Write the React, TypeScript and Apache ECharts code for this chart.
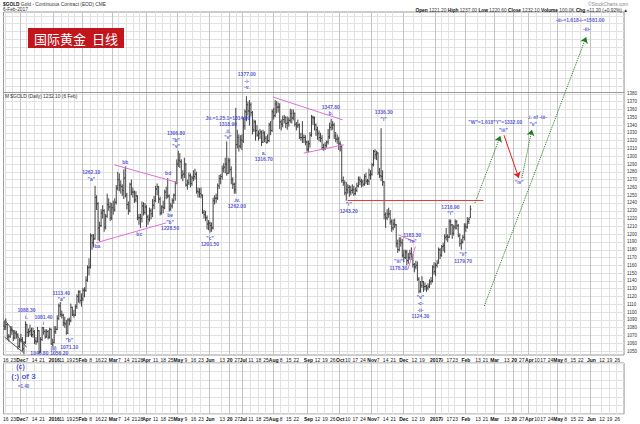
import React, { useEffect, useRef } from 'react';
import * as echarts from 'echarts';

const HOLIDAYS = ['2015-11-26','2015-12-25','2016-01-01','2016-01-18','2016-02-15','2016-03-25','2016-05-30','2016-07-04','2016-09-05','2016-11-24','2016-12-26','2017-01-02','2017-01-16','2017-02-20','2017-04-14','2017-05-29'];

const TICK_LABELS: [string, string][] = [
  ['2015-11-16','16'],['2015-11-23','23'],['2015-12-01','Dec'],['2015-12-07','7'],['2015-12-14','14'],['2015-12-21','21'],
  ['2016-01-04','2016'],['2016-01-11','11'],['2016-01-19','19'],['2016-01-25','25'],
  ['2016-02-01','Feb'],['2016-02-08','8'],['2016-02-16','16'],['2016-02-22','22'],
  ['2016-03-01','Mar'],['2016-03-07','7'],['2016-03-14','14'],['2016-03-21','21'],['2016-03-28','28'],
  ['2016-04-01','Apr'],['2016-04-11','11'],['2016-04-18','18'],['2016-04-25','25'],
  ['2016-05-02','May'],['2016-05-09','9'],['2016-05-16','16'],['2016-05-23','23'],
  ['2016-06-01','Jun'],['2016-06-13','13'],['2016-06-20','20'],['2016-06-27','27'],
  ['2016-07-01','Jul'],['2016-07-11','11'],['2016-07-18','18'],['2016-07-25','25'],
  ['2016-08-01','Aug'],['2016-08-08','8'],['2016-08-15','15'],['2016-08-22','22'],
  ['2016-09-01','Sep'],['2016-09-12','12'],['2016-09-19','19'],['2016-09-26','26'],
  ['2016-10-03','Oct'],['2016-10-10','10'],['2016-10-17','17'],['2016-10-24','24'],
  ['2016-11-01','Nov'],['2016-11-07','7'],['2016-11-14','14'],['2016-11-21','21'],
  ['2016-12-01','Dec'],['2016-12-12','12'],['2016-12-19','19'],
  ['2017-01-03','2017'],['2017-01-09','9'],['2017-01-17','17'],['2017-01-23','23'],
  ['2017-02-01','Feb'],['2017-02-13','13'],['2017-02-21','21'],
  ['2017-03-01','Mar'],['2017-03-13','13'],['2017-03-20','20'],['2017-03-27','27'],
  ['2017-04-03','Apr'],['2017-04-10','10'],['2017-04-17','17'],['2017-04-24','24'],
  ['2017-05-01','May'],['2017-05-08','8'],['2017-05-15','15'],['2017-05-22','22'],
  ['2017-06-01','Jun'],['2017-06-12','12'],['2017-06-19','19'],['2017-06-26','26'],
];

const PRICE_TICKS = [1050,1060,1070,1080,1090,1100,1110,1120,1130,1140,1150,1160,1170,1180,1190,1200,1210,1220,1230,1240,1250,1260,1270,1280,1290,1300,1310,1320,1330,1340,1350,1360,1370,1380];

// [date, open, high, low, close]
const BARS: [string, number, number, number, number][] = [
  ['2015-11-13',1082,1089,1077,1081],['2015-11-16',1081,1092,1077,1084],['2015-11-17',1084,1086,1064,1068],['2015-11-18',1068,1072,1062,1069],
  ['2015-11-19',1069,1082,1067,1077],['2015-11-20',1077,1082,1071,1076],['2015-11-23',1076,1077,1063,1067],['2015-11-24',1067,1077,1065,1073],
  ['2015-11-25',1073,1076,1066,1071],['2015-11-27',1071,1073,1052,1056],['2015-11-30',1056,1066,1054,1064],
  ['2015-12-01',1064,1072,1061,1065],['2015-12-02',1065,1068,1050,1053],['2015-12-03',1053,1063,1046,1061],['2015-12-04',1061,1088,1059,1084],
  ['2015-12-07',1084,1085,1068,1074],['2015-12-08',1074,1079,1068,1075],['2015-12-09',1075,1084,1070,1076],['2015-12-10',1076,1080,1068,1071],
  ['2015-12-11',1071,1080,1067,1075],['2015-12-14',1075,1077,1059,1063],['2015-12-15',1063,1068,1058,1062],['2015-12-16',1062,1081,1061,1076],
  ['2015-12-17',1076,1077,1047,1049],['2015-12-18',1049,1068,1048,1065],['2015-12-21',1065,1081,1063,1080],['2015-12-22',1080,1081,1071,1075],
  ['2015-12-23',1075,1078,1066,1068],['2015-12-24',1068,1078,1067,1075],['2015-12-28',1075,1077,1065,1068],['2015-12-29',1068,1080,1066,1078],
  ['2015-12-30',1078,1079,1058,1059],['2015-12-31',1059,1066,1056,1061],
  ['2016-01-04',1061,1082,1060,1075],['2016-01-05',1075,1082,1072,1078],['2016-01-06',1078,1096,1077,1092],['2016-01-07',1092,1111,1090,1108],
  ['2016-01-08',1108,1113,1094,1097],['2016-01-11',1097,1102,1092,1096],['2016-01-12',1096,1098,1082,1086],['2016-01-13',1086,1094,1080,1085],
  ['2016-01-14',1085,1090,1071,1073],['2016-01-15',1073,1092,1072,1090],['2016-01-19',1090,1093,1083,1089],['2016-01-20',1089,1111,1087,1106],
  ['2016-01-21',1106,1107,1095,1097],['2016-01-22',1097,1103,1093,1096],['2016-01-25',1096,1110,1095,1107],['2016-01-26',1107,1123,1104,1120],
  ['2016-01-27',1120,1128,1112,1126],['2016-01-28',1126,1128,1111,1115],['2016-01-29',1115,1124,1107,1117],
  ['2016-02-01',1117,1131,1114,1128],['2016-02-02',1128,1132,1119,1128],['2016-02-03',1128,1146,1126,1141],['2016-02-04',1141,1160,1139,1157],
  ['2016-02-05',1157,1169,1147,1158],['2016-02-08',1158,1201,1156,1198],['2016-02-09',1198,1200,1180,1189],['2016-02-10',1189,1200,1183,1194],
  ['2016-02-11',1194,1262,1193,1247],['2016-02-12',1247,1250,1231,1239],['2016-02-16',1239,1241,1192,1208],['2016-02-17',1208,1216,1191,1211],
  ['2016-02-18',1211,1232,1209,1227],['2016-02-19',1227,1237,1220,1230],['2016-02-22',1230,1232,1203,1209],['2016-02-23',1209,1226,1206,1223],
  ['2016-02-24',1223,1252,1221,1238],['2016-02-25',1238,1246,1230,1235],['2016-02-26',1235,1241,1217,1221],['2016-02-29',1221,1240,1218,1234],
  ['2016-03-01',1234,1243,1225,1231],['2016-03-02',1231,1246,1229,1241],['2016-03-03',1241,1263,1238,1259],['2016-03-04',1259,1280,1256,1270],
  ['2016-03-07',1270,1278,1255,1263],['2016-03-08',1263,1269,1252,1261],['2016-03-09',1261,1264,1249,1256],['2016-03-10',1256,1283,1245,1272],
  ['2016-03-11',1272,1287,1247,1250],['2016-03-14',1250,1253,1232,1238],['2016-03-15',1238,1242,1225,1230],['2016-03-16',1230,1266,1228,1264],
  ['2016-03-17',1264,1270,1250,1254],['2016-03-18',1254,1260,1247,1254],['2016-03-21',1254,1256,1240,1244],['2016-03-22',1244,1255,1241,1249],
  ['2016-03-23',1249,1250,1218,1221],['2016-03-24',1221,1226,1212,1221],['2016-03-28',1221,1226,1208,1220],['2016-03-29',1220,1242,1215,1236],
  ['2016-03-30',1236,1241,1224,1228],['2016-03-31',1228,1240,1225,1235],
  ['2016-04-01',1235,1237,1209,1222],['2016-04-04',1222,1225,1212,1219],['2016-04-05',1219,1234,1216,1230],['2016-04-06',1230,1233,1219,1226],
  ['2016-04-07',1226,1245,1222,1237],['2016-04-08',1237,1249,1232,1243],['2016-04-11',1243,1262,1241,1258],['2016-04-12',1258,1265,1250,1261],
  ['2016-04-13',1261,1262,1240,1245],['2016-04-14',1245,1248,1224,1227],['2016-04-15',1227,1237,1225,1235],['2016-04-18',1235,1243,1227,1234],
  ['2016-04-19',1234,1257,1232,1254],['2016-04-20',1254,1261,1245,1249],['2016-04-21',1249,1272,1246,1249],['2016-04-22',1249,1251,1229,1232],
  ['2016-04-25',1232,1240,1230,1236],['2016-04-26',1236,1246,1233,1243],['2016-04-27',1243,1252,1239,1250],['2016-04-28',1250,1268,1243,1266],
  ['2016-04-29',1266,1296,1264,1290],
  ['2016-05-02',1290,1307,1286,1295],['2016-05-03',1295,1304,1285,1293],['2016-05-04',1293,1296,1271,1275],['2016-05-05',1275,1282,1268,1277],
  ['2016-05-06',1277,1298,1272,1290],['2016-05-09',1290,1291,1261,1263],['2016-05-10',1263,1270,1257,1266],['2016-05-11',1266,1279,1263,1275],
  ['2016-05-12',1275,1278,1260,1265],['2016-05-13',1265,1275,1262,1272],['2016-05-16',1272,1282,1268,1274],['2016-05-17',1274,1284,1270,1277],
  ['2016-05-18',1277,1280,1252,1255],['2016-05-19',1255,1260,1247,1254],['2016-05-20',1254,1259,1247,1252],['2016-05-23',1252,1260,1246,1250],
  ['2016-05-24',1250,1251,1226,1228],['2016-05-25',1228,1231,1220,1225],['2016-05-26',1225,1230,1217,1221],['2016-05-27',1221,1224,1206,1213],
  ['2016-05-31',1213,1218,1205,1214],
  ['2016-06-01',1214,1216,1202,1211],['2016-06-02',1211,1215,1203,1208],['2016-06-03',1208,1247,1206,1243],['2016-06-06',1243,1250,1238,1246],
  ['2016-06-07',1246,1252,1240,1246],['2016-06-08',1246,1265,1244,1262],['2016-06-09',1262,1276,1258,1271],['2016-06-10',1271,1277,1264,1274],
  ['2016-06-13',1274,1288,1270,1284],['2016-06-14',1284,1291,1279,1286],['2016-06-15',1286,1298,1278,1290],['2016-06-16',1290,1319,1275,1278],
  ['2016-06-17',1278,1298,1277,1294],['2016-06-20',1294,1297,1278,1283],['2016-06-21',1283,1287,1264,1270],['2016-06-22',1270,1273,1258,1264],
  ['2016-06-23',1264,1266,1252,1257],['2016-06-24',1257,1362,1252,1315],['2016-06-27',1315,1334,1310,1324],['2016-06-28',1324,1328,1306,1313],
  ['2016-06-29',1313,1327,1310,1321],['2016-06-30',1321,1328,1308,1320],
  ['2016-07-01',1320,1350,1317,1339],['2016-07-05',1339,1360,1334,1357],['2016-07-06',1357,1377,1345,1366],['2016-07-07',1366,1370,1352,1358],
  ['2016-07-08',1358,1372,1339,1366],['2016-07-11',1366,1369,1351,1356],['2016-07-12',1356,1358,1328,1334],['2016-07-13',1334,1347,1331,1344],
  ['2016-07-14',1344,1346,1320,1333],['2016-07-15',1333,1340,1325,1327],['2016-07-18',1327,1333,1320,1329],['2016-07-19',1329,1335,1322,1331],
  ['2016-07-20',1331,1333,1313,1318],['2016-07-21',1318,1334,1317,1330],['2016-07-22',1330,1332,1318,1323],['2016-07-25',1323,1326,1317,1317],
  ['2016-07-26',1317,1328,1317,1320],['2016-07-27',1320,1343,1318,1340],['2016-07-28',1340,1345,1327,1333],['2016-07-29',1333,1360,1331,1357],
  ['2016-08-01',1357,1362,1347,1352],['2016-08-02',1352,1372,1350,1367],['2016-08-03',1367,1371,1355,1363],['2016-08-04',1363,1369,1356,1363],
  ['2016-08-05',1363,1368,1335,1344],['2016-08-08',1344,1347,1333,1341],['2016-08-09',1341,1352,1337,1347],['2016-08-10',1347,1353,1342,1350],
  ['2016-08-11',1350,1351,1336,1342],['2016-08-12',1342,1351,1334,1343],['2016-08-15',1343,1350,1338,1346],['2016-08-16',1346,1361,1343,1355],
  ['2016-08-17',1355,1360,1342,1349],['2016-08-18',1349,1360,1346,1355],['2016-08-19',1355,1356,1338,1341],['2016-08-22',1341,1344,1333,1339],
  ['2016-08-23',1339,1347,1336,1340],['2016-08-24',1340,1342,1322,1324],['2016-08-25',1324,1330,1320,1324],['2016-08-26',1324,1345,1317,1324],
  ['2016-08-29',1324,1328,1317,1324],['2016-08-30',1324,1327,1314,1318],['2016-08-31',1318,1320,1306,1309],
  ['2016-09-01',1309,1320,1305,1316],['2016-09-02',1316,1331,1311,1327],['2016-09-06',1327,1353,1325,1350],['2016-09-07',1350,1352,1340,1349],
  ['2016-09-08',1349,1351,1333,1340],['2016-09-09',1340,1342,1326,1334],['2016-09-12',1334,1338,1321,1329],['2016-09-13',1329,1333,1319,1324],
  ['2016-09-14',1324,1330,1318,1323],['2016-09-15',1323,1327,1308,1311],['2016-09-16',1311,1316,1307,1310],['2016-09-19',1310,1318,1308,1314],
  ['2016-09-20',1314,1320,1311,1318],['2016-09-21',1318,1335,1315,1325],['2016-09-22',1325,1343,1322,1337],['2016-09-23',1337,1348,1333,1340],
  ['2016-09-26',1340,1345,1334,1340],['2016-09-27',1340,1343,1322,1326],['2016-09-28',1326,1331,1318,1322],['2016-09-29',1322,1328,1316,1322],
  ['2016-09-30',1322,1325,1308,1316],
  ['2016-10-03',1316,1319,1306,1313],['2016-10-04',1313,1315,1266,1269],['2016-10-05',1269,1274,1262,1266],['2016-10-06',1266,1269,1250,1253],
  ['2016-10-07',1253,1267,1243,1257],['2016-10-10',1257,1264,1252,1260],['2016-10-11',1260,1263,1248,1254],['2016-10-12',1254,1262,1250,1256],
  ['2016-10-13',1256,1264,1252,1257],['2016-10-14',1257,1262,1249,1252],['2016-10-17',1252,1260,1250,1256],['2016-10-18',1256,1266,1254,1262],
  ['2016-10-19',1262,1274,1260,1270],['2016-10-20',1270,1274,1263,1268],['2016-10-21',1268,1271,1260,1267],['2016-10-24',1267,1270,1261,1264],
  ['2016-10-25',1264,1277,1262,1274],['2016-10-26',1274,1279,1264,1268],['2016-10-27',1268,1271,1263,1268],['2016-10-28',1268,1284,1263,1276],
  ['2016-10-31',1276,1282,1270,1277],
  ['2016-11-01',1277,1291,1275,1289],['2016-11-02',1289,1308,1287,1306],['2016-11-03',1306,1309,1296,1302],['2016-11-04',1302,1307,1295,1304],
  ['2016-11-07',1304,1305,1276,1279],['2016-11-08',1279,1285,1272,1275],['2016-11-09',1275,1336,1268,1274],['2016-11-10',1274,1282,1262,1267],
  ['2016-11-11',1267,1268,1219,1225],['2016-11-14',1225,1228,1208,1221],['2016-11-15',1221,1232,1218,1226],['2016-11-16',1226,1234,1221,1226],
  ['2016-11-17',1226,1231,1212,1216],['2016-11-18',1216,1219,1203,1208],['2016-11-21',1208,1219,1205,1213],['2016-11-22',1213,1220,1208,1212],
  ['2016-11-23',1212,1213,1183,1188],['2016-11-25',1188,1193,1176,1180],['2016-11-28',1180,1196,1178,1191],['2016-11-29',1191,1196,1184,1189],
  ['2016-11-30',1189,1194,1170,1173],
  ['2016-12-01',1173,1180,1164,1170],['2016-12-02',1170,1180,1168,1177],['2016-12-05',1177,1180,1160,1166],['2016-12-06',1166,1176,1162,1170],
  ['2016-12-07',1170,1180,1167,1175],['2016-12-08',1175,1183,1167,1171],['2016-12-09',1171,1175,1157,1161],['2016-12-12',1161,1163,1151,1158],
  ['2016-12-13',1158,1166,1155,1160],['2016-12-14',1160,1165,1140,1142],['2016-12-15',1142,1145,1124,1127],['2016-12-16',1127,1140,1125,1134],
  ['2016-12-19',1134,1146,1131,1139],['2016-12-20',1139,1140,1126,1133],['2016-12-21',1133,1138,1128,1133],['2016-12-22',1133,1135,1126,1131],
  ['2016-12-23',1131,1137,1128,1133],['2016-12-27',1133,1142,1131,1139],['2016-12-28',1139,1145,1135,1140],['2016-12-29',1140,1160,1138,1158],
  ['2016-12-30',1158,1164,1148,1152],
  ['2017-01-03',1152,1163,1146,1160],['2017-01-04',1160,1167,1157,1163],['2017-01-05',1163,1183,1162,1180],['2017-01-06',1180,1182,1168,1173],
  ['2017-01-09',1173,1186,1171,1184],['2017-01-10',1184,1189,1178,1185],['2017-01-11',1185,1200,1176,1196],['2017-01-12',1196,1208,1192,1197],
  ['2017-01-13',1197,1200,1190,1196],['2017-01-17',1196,1219,1195,1216],['2017-01-18',1216,1219,1199,1212],['2017-01-19',1212,1213,1194,1201],
  ['2017-01-20',1201,1212,1198,1209],['2017-01-23',1209,1219,1206,1216],['2017-01-24',1216,1218,1206,1211],['2017-01-25',1211,1213,1196,1198],
  ['2017-01-26',1198,1201,1184,1188],['2017-01-27',1188,1194,1180,1190],['2017-01-30',1190,1199,1188,1196],['2017-01-31',1196,1214,1192,1210],
  ['2017-02-01',1210,1214,1203,1209],['2017-02-02',1209,1222,1207,1216],['2017-02-03',1216,1221,1213,1219],['2017-02-06',1221.2,1237,1220.6,1232.1],
];

// wave labels: [category position, price, text]
const WAVE_LABELS: [number, number, string][] = [
  [14.7, 1098, '1088.30\ni.'],
  [25.9, 1090, '1081.40\ni'],
  [37.7, 1121, '1113.40\n"a"'],
  [43, 1060, '"b"\n1071.10'],
  [32.5, 1054, '(ii)'],
  [23.2, 1047.5, '1046.80'],
  [36.3, 1047.5, '1056.20'],
  [57.5, 1275, '1262.10\n"a"'],
  [61.5, 1185, 'ba'],
  [80, 1293, 'bb'],
  [89.2, 1200, 'bc'],
  [108.3, 1278, 'bd'],
  [109.6, 1216, 'be\n"b"\n1228.50'],
  [113.5, 1321, '1306.80\n"b"\n"v"'],
  [136, 1191, '"c"\n1201.50'],
  [147.8, 1337, 'Jii.=1.25.1=1314.90\n1318.90\n.ii.\n"v"'],
  [153.7, 1240, '.iv.\n1262.00'],
  [160.3, 1397, '1377.00\n-i-\n-v.'],
  [171.5, 1300, 'a.\n1316.70'],
  [215.7, 1359, '1347.80\nb.'],
  [227.6, 1234, '"i"\n1243.20'],
  [250.7, 1352, '1336.30\n"i"'],
  [260.5, 1161, '"iii"\n1178.30'],
  [269.5, 1195, '1183.30\n"iv"'],
  [275, 1107, '"v"\n-c-\n-ii-\n1124.30'],
  [294.8, 1231, '1218.90\n"i"'],
  [303.2, 1170, '"ii"\n1179.70'],
  [324.5, 1344, '"W"=1.618"Y"=1332.00'],
  [329.8, 1334, '"iii"'],
  [352.2, 1350, '.i. of -iii-'],
  [349.5, 1341, '"v"'],
  [340.3, 1267, '"iv"'],
  [380.5, 1475, '-iii-=1.618-i-=1581.00'],
  [384.9, 1463, '-iii-'],
];
const BIG_LABELS: [number, number, string, number][] = [
  [10.7, 1030, '(c)', 7],
  [12.7, 1017, '(:) of 3', 8],
  [12.7, 1005, '=1.40', 4.5],
];

// [x1, p1, x2, p2]
const PINK_LINES: [number, number, number, number][] = [
  [72.7, 1289, 114.9, 1266], [60.8, 1189, 107, 1214.5],
  [177.5, 1376, 223.6, 1346.6], [197.9, 1304, 224.3, 1314.6],
  [260.5, 1199, 271.7, 1190], [266.5, 1154, 271.7, 1184],
];
const GRAY_LINES: [number, number, number, number][] = [
  [0.2, 1090, 14.7, 1055], [0.2, 1068, 12.7, 1048],
];
const RED_LEVEL: [number, number, number, number][] = [[226.9, 1243.2, 316.6, 1243.2]];
const GREEN_ARROWS: [number, number, number, number][] = [
  [311, 1240, 327.8, 1326], [342, 1272, 348.6, 1334], [317.2, 1108, 384.5, 1453],
];
const RED_ARROWS: [number, number, number, number][] = [[330.2, 1327, 340, 1272]];

const HEADER_TITLE = 'Gold - Continuous Contract (EOD) CME';
const HEADER_DATE = '6-Feb-2017';
const QUOTE: [string, string][] = [['Open','1221.20'],['High','1237.00'],['Low','1220.60'],['Close','1232.10'],['Volume','100.0K'],['Chg','+11.20 (+0.92%)']];

function tradingDays(): string[] {
  const out: string[] = [];
  const d = new Date(Date.UTC(2015, 10, 13));
  const end = Date.UTC(2017, 5, 30);
  while (d.getTime() <= end) {
    const wd = d.getUTCDay();
    const s = d.toISOString().slice(0, 10);
    if (wd !== 0 && wd !== 6 && HOLIDAYS.indexOf(s) < 0) out.push(s);
    d.setUTCDate(d.getUTCDate() + 1);
  }
  return out;
}

const FONT = 'Liberation Sans';
const BLUE = '#2d2dcc';

export default function App() {
  const ref = useRef<HTMLDivElement>(null);
  useEffect(() => {
    document.body.style.margin = '0';
    const chart = echarts.init(ref.current!, null, { renderer: 'svg' });
    const days = tradingDays();
    const n = days.length;
    const idx: Record<string, number> = {};
    days.forEach((d, i) => { idx[d] = i; });
    const tickMap: Record<string, string> = {};
    TICK_LABELS.forEach(([d, t]) => { tickMap[d] = t; });
    const isMonth = (t: string) => /^[A-Z]|^20/.test(t);

    const bars = BARS.map(([d, o, h, l, c]) => [idx[d], o, h, l, c]);
    const seg = (arr: [number, number, number, number][]) => arr.map(([a, b, c, d]) => ({ coords: [[a, b], [c, d]] }));

    const catAxis = (grid: number, labels: boolean, month: boolean) => ({
      type: 'category', gridIndex: grid, data: days, boundaryGap: true,
      axisLine: { show: false }, axisTick: { show: false },
      axisLabel: labels ? {
        show: true, interval: (i: number, v: string) => tickMap[v] !== undefined,
        formatter: (v: string) => { const t = tickMap[v] || ''; return isMonth(t) ? '{b|' + t + '}' : t; },
        fontSize: 5, fontFamily: FONT, color: '#222', margin: 2,
        rich: { b: { fontWeight: 'bold', fontSize: 5, fontFamily: FONT, color: '#111' } },
      } : { show: false },
      splitLine: {
        show: true,
        interval: (i: number, v: string) => tickMap[v] !== undefined && (month ? isMonth(tickMap[v]) : true),
        lineStyle: { color: month ? '#c4c4c4' : '#e2e2e2', width: 1 },
      },
    });

    const option: any = {
      animation: false,
      backgroundColor: '#fff',
      grid: [
        { left: 2, right: 16, top: 12, bottom: 69, show: true, borderColor: '#999', borderWidth: 1, backgroundColor: '#fff' },
        { left: 2, right: 16, top: 363, bottom: 10, show: true, borderColor: '#999', borderWidth: 1, backgroundColor: '#fff' },
      ],
      xAxis: [
        catAxis(0, true, false),
        catAxis(0, false, true),
        { type: 'value', gridIndex: 0, min: -0.5, max: n - 0.5, show: false },
        catAxis(1, true, false),
        catAxis(1, false, true),
      ],
      yAxis: [
        {
          type: 'value', gridIndex: 0, min: 1045, max: 1485, interval: 5, position: 'right',
          axisLine: { show: false }, axisTick: { show: false },
          axisLabel: {
            fontSize: 4.5, fontFamily: FONT, color: '#333', margin: 3,
            formatter: (v: number) => (PRICE_TICKS.indexOf(v) >= 0 ? String(v) : ''),
          },
          splitLine: { show: true, lineStyle: { color: ['rgba(0,0,0,0)', '#e2e2e2'], width: 1 } },
        },
        {
          type: 'value', gridIndex: 1, min: 0, max: 6, interval: 1, position: 'right',
          axisLine: { show: false }, axisTick: { show: false }, axisLabel: { show: false },
          splitLine: { show: true, lineStyle: { color: '#e2e2e2' } },
        },
      ],
      series: [
        {
          type: 'lines', coordinateSystem: 'cartesian2d', xAxisIndex: 2, yAxisIndex: 0, silent: true,
          data: [{ coords: [[-0.5, 1382.5], [n - 0.5, 1382.5]] }],
          lineStyle: { color: '#999', width: 1, opacity: 1 }, z: 3,
        },
        {
          type: 'custom', xAxisIndex: 2, yAxisIndex: 0, silent: true, data: bars,
          encode: { x: 0, y: [1, 2, 3, 4] },
          renderItem: (params: any, api: any) => {
            const i = api.value(0);
            const o = api.coord([i, api.value(1)]);
            const h = api.coord([i, api.value(2)]);
            const l = api.coord([i, api.value(3)]);
            const c = api.coord([i, api.value(4)]);
            const t = 1.1;
            const st = { stroke: '#444', lineWidth: 1 };
            return {
              type: 'group', children: [
                { type: 'line', shape: { x1: h[0], y1: h[1], x2: l[0], y2: l[1] }, style: st },
                { type: 'line', shape: { x1: o[0] - t, y1: o[1], x2: o[0], y2: o[1] }, style: st },
                { type: 'line', shape: { x1: c[0], y1: c[1], x2: c[0] + t, y2: c[1] }, style: st },
              ],
            };
          },
          z: 4,
        },
        {
          type: 'lines', coordinateSystem: 'cartesian2d', xAxisIndex: 2, yAxisIndex: 0, silent: true, clip: false,
          data: seg(PINK_LINES), lineStyle: { color: '#e070d8', width: 1, opacity: 1 }, z: 5,
        },
        {
          type: 'lines', coordinateSystem: 'cartesian2d', xAxisIndex: 2, yAxisIndex: 0, silent: true, clip: false,
          data: seg(GRAY_LINES), lineStyle: { color: '#555', width: 1, opacity: 1 }, z: 5,
        },
        {
          type: 'lines', coordinateSystem: 'cartesian2d', xAxisIndex: 2, yAxisIndex: 0, silent: true, clip: false,
          data: seg(RED_LEVEL), lineStyle: { color: '#e83a3a', width: 1, opacity: 1 }, z: 5,
        },
        {
          type: 'lines', coordinateSystem: 'cartesian2d', xAxisIndex: 2, yAxisIndex: 0, silent: true, clip: false,
          data: seg(GREEN_ARROWS), symbol: ['none', 'arrow'], symbolSize: 6,
          lineStyle: { color: '#1f7a1f', width: 1, type: 'dotted', opacity: 1 }, z: 6,
        },
        {
          type: 'lines', coordinateSystem: 'cartesian2d', xAxisIndex: 2, yAxisIndex: 0, silent: true, clip: false,
          data: seg(RED_ARROWS), symbol: ['none', 'arrow'], symbolSize: 6,
          lineStyle: { color: '#e02020', width: 1, opacity: 1 }, z: 6,
        },
        {
          type: 'scatter', xAxisIndex: 2, yAxisIndex: 0, silent: true, clip: false,
          symbolSize: 1, itemStyle: { color: 'rgba(0,0,0,0)' },
          data: WAVE_LABELS.map(([x, p, t]) => ({ value: [x, p], label: { formatter: t } })),
          label: { show: true, position: 'inside', color: BLUE, fontSize: 5, fontWeight: 'bold', fontFamily: FONT, lineHeight: 6.5 },
          z: 7,
        },
        {
          type: 'scatter', xAxisIndex: 2, yAxisIndex: 0, silent: true, clip: false,
          symbolSize: 1, itemStyle: { color: 'rgba(0,0,0,0)' },
          data: BIG_LABELS.map(([x, p, t, s]) => ({ value: [x, p], label: { formatter: t, fontSize: s } })),
          label: { show: true, position: 'inside', color: BLUE, fontWeight: 'bold', fontFamily: FONT },
          z: 7,
        },
      ],
      graphic: [
        {
          type: 'text', left: 3, top: 1.5,
          style: { text: '{b|$GOLD} ' + HEADER_TITLE, fontSize: 4.8, fontFamily: FONT, fill: '#333',
            rich: { b: { fontWeight: 'bold', fontSize: 4.8, fontFamily: FONT, fill: '#111' } } },
        },
        { type: 'text', left: 3, top: 7, style: { text: HEADER_DATE, fontSize: 4.8, fontFamily: FONT, fill: '#333' } },
        { type: 'text', right: 12, top: 2, style: { text: '©StockCharts.com', fontSize: 4.8, fontFamily: FONT, fill: '#888' } },
        {
          type: 'text', right: 12, top: 7.5,
          style: {
            text: QUOTE.map(([k, v]) => '{b|' + k + '} ' + v).join(' ') + ' ▲',
            fontSize: 4.8, fontFamily: FONT, fill: '#333',
            rich: { b: { fontWeight: 'bold', fontSize: 4.8, fontFamily: FONT, fill: '#111' } },
          },
        },
        { type: 'rect', shape: { x: 28, y: 28, width: 96, height: 20 }, style: { fill: '#c2161c' }, z: 10 },
        { type: 'text', x: 76, y: 38, style: { text: '国际黄金  日线', fontSize: 13, fontFamily: 'Noto Sans CJK SC', fill: '#fff', align: 'center', verticalAlign: 'middle' }, z: 11 },
        { type: 'text', left: 5, top: 93.5, style: { text: 'M $GOLD (Daily) 1232.10 (6 Feb)', fontSize: 4.8, fontFamily: FONT, fill: '#333' }, z: 11 },
      ],
    };
    chart.setOption(option);
    return () => chart.dispose();
  }, []);
  return <div ref={ref} style={{ width: 640, height: 424, background: '#fff' }} />;
}
